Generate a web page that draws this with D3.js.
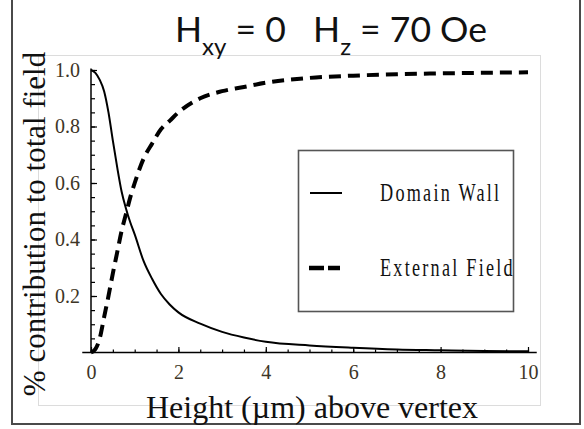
<!DOCTYPE html>
<html>
<head>
<meta charset="utf-8">
<script src="https://cdn.jsdelivr.net/npm/d3@7"></script>
<style>
body { margin: 0; background: #fff; }
</style>
</head>
<body>
<script>
// values
var heights = [0, 0.1, 0.2, 0.3, 0.4, 0.5, 0.6, 0.7, 0.8, 0.9, 1.0, 1.2, 1.4, 1.6, 1.8, 2.0, 2.5, 3.0, 3.5, 4.0, 5.0, 6.0, 7.0, 8.0, 9.0, 10.0];
var domainWall = [1.0, 0.99, 0.965, 0.925, 0.85, 0.75, 0.655, 0.57, 0.51, 0.46, 0.418, 0.325, 0.26, 0.207, 0.17, 0.142, 0.102, 0.073, 0.053, 0.038, 0.025, 0.017, 0.011, 0.008, 0.005, 0.004];
var externalField = [0, 0.012, 0.05, 0.125, 0.2, 0.28, 0.355, 0.43, 0.49, 0.55, 0.6, 0.685, 0.74, 0.79, 0.82, 0.85, 0.9, 0.925, 0.94, 0.955, 0.972, 0.98, 0.985, 0.988, 0.99, 0.992];
var xMajor = [0, 2, 4, 6, 8, 10];
var yMajor = [0.2, 0.4, 0.6, 0.8, 1.0];
var seriesNames = ["Domain Wall", "External Field"];

var width = 584,
  height = 429;

var svg = d3.select("body").append("svg")
  .attr("width", width)
  .attr("height", height)
  .attr("xmlns", "http://www.w3.org/2000/svg");

// outer frame and the faint inner box
svg.append("rect")
  .attr("x", 12).attr("y", -5).attr("width", 568).attr("height", 429)
  .attr("fill", "#fff").attr("stroke", "#4a4a4a").attr("stroke-width", 2);
svg.append("rect")
  .attr("x", 38.5).attr("y", 55.5).attr("width", 502).attr("height", 350)
  .attr("fill", "none").attr("stroke", "#dcdcdc").attr("stroke-width", 1);

var x = d3.scaleLinear().domain([0, 10]).range([91, 528]);
var y = d3.scaleLinear().domain([0, 1]).range([352.5, 70]);

// minor ticks
svg.append("g")
  .attr("transform", "translate(0," + y(0) + ")")
  .call(d3.axisBottom(x).tickValues(d3.range(0, 10.01, 0.5)).tickSize(-3).tickFormat(""))
  .call(function(g) { g.select(".domain").remove(); });
svg.append("g")
  .attr("transform", "translate(" + x(0) + ",0)")
  .call(d3.axisLeft(y).tickValues(d3.range(0.05, 1.01, 0.05)).tickSize(-4).tickFormat(""))
  .call(function(g) { g.select(".domain").remove(); });

// major ticks with labels
var xAxis = svg.append("g")
  .attr("transform", "translate(0," + y(0) + ")")
  .call(d3.axisBottom(x).tickValues(xMajor).tickSize(-5.5).tickFormat(d3.format("d")));
xAxis.select(".domain").remove();
xAxis.selectAll("text")
  .attr("y", 26).attr("dy", 0)
  .attr("font-family", "Liberation Serif").attr("font-size", 20).attr("fill", "#3d3526");

var yAxis = svg.append("g")
  .attr("transform", "translate(" + x(0) + ",0)")
  .call(d3.axisLeft(y).tickValues(yMajor).tickSize(-6).tickPadding(11).tickFormat(d3.format(".1f")));
yAxis.select(".domain").remove();
yAxis.selectAll("text")
  .attr("font-family", "Liberation Serif").attr("font-size", 20).attr("fill", "#3d3526");
svg.selectAll(".tick line").attr("stroke", "#000").attr("stroke-width", 1.2);

// axis lines, x line runs a little past the data range
svg.append("line")
  .attr("x1", x(-0.2)).attr("x2", x(10.2)).attr("y1", y(0)).attr("y2", y(0))
  .attr("stroke", "#000").attr("stroke-width", 1.5);
svg.append("line")
  .attr("x1", x(0)).attr("x2", x(0)).attr("y1", y(0)).attr("y2", y(1.005))
  .attr("stroke", "#000").attr("stroke-width", 1.5);

// the two curves
var line = d3.line()
  .x(function(d) { return x(d[0]); })
  .y(function(d) { return y(d[1]); })
  .curve(d3.curveMonotoneX);
svg.append("path")
  .datum(d3.zip(heights, domainWall))
  .attr("d", line)
  .attr("fill", "none").attr("stroke", "#000").attr("stroke-width", 2);
svg.append("path")
  .datum(d3.zip(heights, externalField))
  .attr("d", line)
  .attr("fill", "none").attr("stroke", "#000").attr("stroke-width", 4)
  .attr("stroke-dasharray", "12,7");

// legend
svg.append("rect")
  .attr("x", 298.5).attr("y", 150.5).attr("width", 215).attr("height", 161)
  .attr("fill", "#fff").attr("stroke", "#555").attr("stroke-width", 1.6);
var legY = [193, 268];
svg.append("line")
  .attr("x1", 310).attr("x2", 342).attr("y1", legY[0]).attr("y2", legY[0])
  .attr("stroke", "#000").attr("stroke-width", 2);
svg.append("line")
  .attr("x1", 309).attr("x2", 340).attr("y1", legY[1]).attr("y2", legY[1])
  .attr("stroke", "#000").attr("stroke-width", 4.5).attr("stroke-dasharray", "15,4");
svg.selectAll(".legtext")
  .data(seriesNames).enter().append("text")
  .attr("transform", function(d, i) { return "translate(380," + (legY[i] + 8) + ") scale(0.7,1)"; })
  .attr("font-family", "Liberation Serif")
  .attr("font-size", 26)
  .attr("letter-spacing", 3.2)
  .attr("fill", "#111")
  .text(function(d) { return d; });

// axis titles
svg.append("text")
  .attr("x", 312).attr("y", 418)
  .attr("text-anchor", "middle")
  .attr("font-family", "Liberation Serif").attr("font-size", 32)
  .attr("fill", "#111")
  .text("Height  (\u00b5m)  above  vertex");
svg.append("text")
  .attr("transform", "translate(45,224) rotate(-90)")
  .attr("text-anchor", "middle")
  .attr("font-family", "Liberation Serif").attr("font-size", 31)
  .attr("fill", "#111")
  .text("% contribution to total field");

// title with subscripts
var title = svg.append("text")
  .attr("x", 175).attr("y", 42)
  .attr("font-family", "Lato").attr("font-size", 35.5)
  .attr("fill", "#111")
  .style("white-space", "pre");
title.append("tspan").text("H");
title.append("tspan").attr("dy", 13).attr("font-size", 24).text("xy");
title.append("tspan").attr("dy", -13).text(" = 0   H");
title.append("tspan").attr("dy", 13).attr("font-size", 24).text("z");
title.append("tspan").attr("dy", -13).text(" = 70 Oe");
</script>
</body>
</html>
